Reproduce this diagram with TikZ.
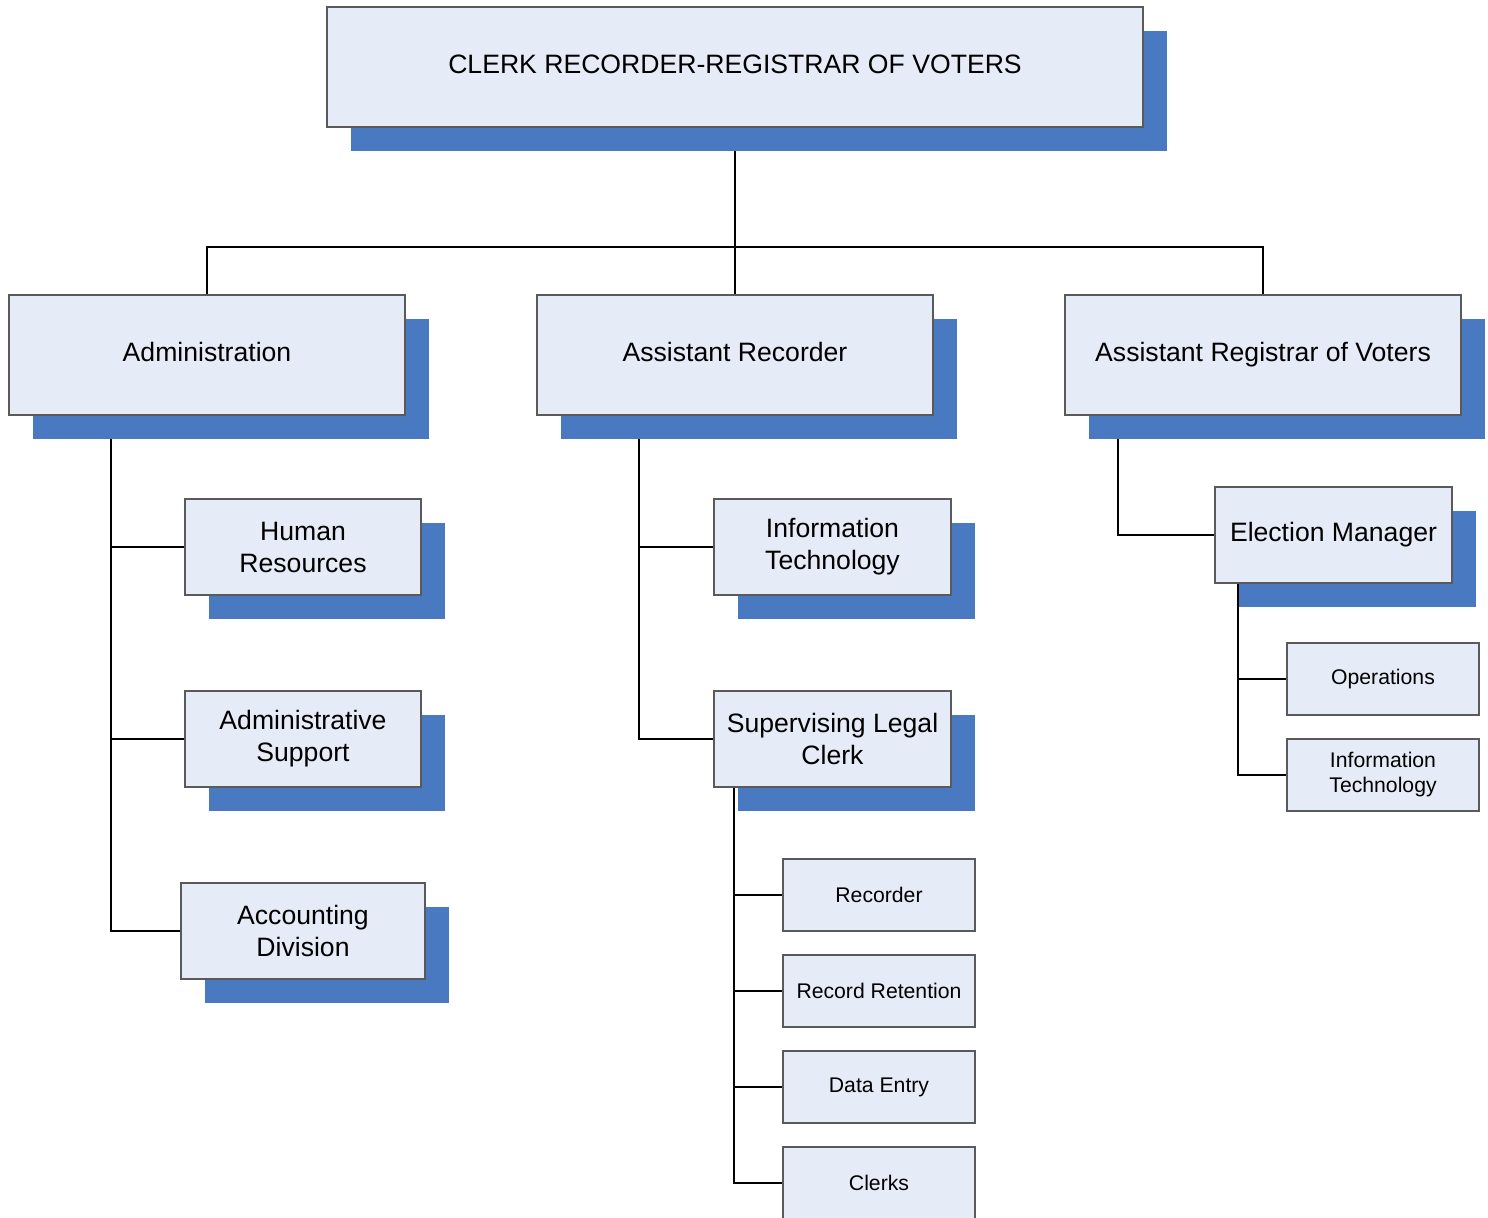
\documentclass[tikz,border=0pt]{standalone}
\usepackage{fontspec}
\setmainfont{Liberation Sans}
\usetikzlibrary{shadows,backgrounds,calc}
\definecolor{boxfill}{RGB}{230,236,247}
\definecolor{shadowc}{RGB}{73,122,193}
\definecolor{boxline}{RGB}{90,90,90}
\tikzset{
  base/.style={rectangle, draw=boxline, line width=0.6pt, fill=boxfill, inner sep=0pt, align=center},
  bigbox/.style={base, font=\fontsize{13.3pt}{16pt}\selectfont,
    drop shadow={shadow xshift=12pt, shadow yshift=-12pt, fill=shadowc, opacity=1, draw=none}},
  oneline/.style={text height=0.86em, text depth=0.2em},
  smallbox/.style={base, minimum width=96pt, minimum height=36pt, font=\fontsize{10.6pt}{12.5pt}\selectfont},
  conn/.style={draw=black, line width=1pt}
}
\begin{document}
\begin{tikzpicture}[x=0.5pt, y=-0.5pt]
\useasboundingbox (0,0) rectangle (1488,1218);
% top
\node[bigbox, oneline, minimum width=408pt, minimum height=60pt] (top) at (735,67) {CLERK RECORDER-REGISTRAR OF VOTERS};
% level 2
\node[bigbox, oneline, minimum width=198pt, minimum height=60pt] (admin) at (207,355) {Administration};
\node[bigbox, oneline, minimum width=198pt, minimum height=60pt] (rec) at (735,355) {Assistant Recorder};
\node[bigbox, oneline, minimum width=198pt, minimum height=60pt] (reg) at (1263,355) {Assistant Registrar of Voters};
% admin children
\node[bigbox, minimum width=118pt, minimum height=48pt] (hr) at (303,547) {Human\\Resources};
\node[bigbox, minimum width=118pt, minimum height=48pt] (as) at (303,739) {Administrative\\Support};
\node[bigbox, minimum width=122pt, minimum height=48pt] (acc) at (303,931) {Accounting\\Division};
% recorder children
\node[bigbox, minimum width=118.5pt, minimum height=48pt] (it) at (832.5,547) {Information\\Technology};
\node[bigbox, minimum width=118.5pt, minimum height=48pt] (slc) at (832.5,739) {Supervising Legal\\Clerk};
\node[smallbox] (recd) at (879,895) {Recorder};
\node[smallbox] (rr) at (879,991) {Record Retention};
\node[smallbox] (de) at (879,1087) {Data Entry};
\node[smallbox] (cl) at (879,1183) {Clerks};
% registrar children
\node[bigbox, oneline, minimum width=118.5pt, minimum height=48pt] (em) at (1333.5,535) {Election Manager};
\node[smallbox] (ops) at (1383,679) {Operations};
\node[smallbox] (it2) at (1383,775) {Information\\Technology};
% connectors
\begin{scope}[on background layer]
\coordinate (bus) at (735,247);
\draw[conn] (top.south) -- (rec.north);
\draw[conn] (admin.north) |- (bus) -| (reg.north);
\coordinate (a0) at ([xshift=51.5pt]admin.south west);
\draw[conn] (a0) |- (hr.west);
\draw[conn] (a0) |- (as.west);
\draw[conn] (a0) |- (acc.west);
\coordinate (r0) at ([xshift=51.5pt]rec.south west);
\draw[conn] (r0) |- (it.west);
\draw[conn] (r0) |- (slc.west);
\coordinate (s0) at ([xshift=10.5pt]slc.south west);
\draw[conn] (s0) |- (recd.west);
\draw[conn] (s0) |- (rr.west);
\draw[conn] (s0) |- (de.west);
\draw[conn] (s0) |- (cl.west);
\coordinate (g0) at ([xshift=27pt]reg.south west);
\draw[conn] (g0) |- (em.west);
\coordinate (e0) at ([xshift=12pt]em.south west);
\draw[conn] (e0) |- (ops.west);
\draw[conn] (e0) |- (it2.west);
\end{scope}
\end{tikzpicture}
\end{document}
